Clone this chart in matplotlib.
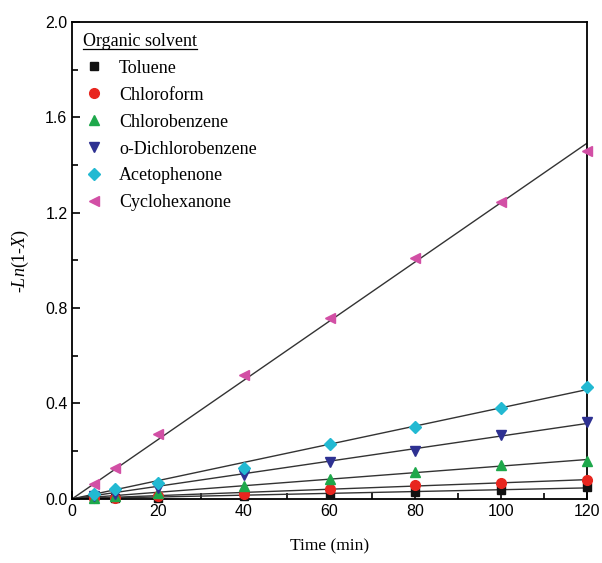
import numpy as np
import matplotlib.pyplot as plt
from matplotlib.lines import Line2D

plt.rcParams['mathtext.fontset'] = 'custom'
plt.rcParams['mathtext.it'] = 'Liberation Serif:italic'
plt.rcParams['mathtext.rm'] = 'Liberation Serif'

# Tiempo de reaccion (min)
tiempo = np.array([5, 10, 20, 40, 60, 80, 100, 120])

# -ln(1-X) para cada disolvente
tolueno = [0.002, 0.003, 0.005, 0.01, 0.02, 0.03, 0.038, 0.05]
cloroformo = [0.003, 0.005, 0.01, 0.022, 0.04, 0.058, 0.067, 0.08]
clorobenceno = [0.005, 0.01, 0.025, 0.055, 0.085, 0.113, 0.14, 0.16]
diclorobenceno = [0.01, 0.02, 0.045, 0.1, 0.156, 0.2, 0.268, 0.324]
acetofenona = [0.02, 0.04, 0.065, 0.13, 0.23, 0.303, 0.38, 0.47]
ciclohexanona = [0.063, 0.13, 0.27, 0.52, 0.76, 1.01, 1.245, 1.46]

nombres = ['Toluene', 'Chloroform', 'Chlorobenzene', 'o-Dichlorobenzene',
           'Acetophenone', 'Cyclohexanone']
series = [tolueno, cloroformo, clorobenceno, diclorobenceno, acetofenona, ciclohexanona]
colores = ['#111111', '#e8261f', '#1ea84b', '#2e3192', '#22b9d2', '#d24fa5']
marcadores = ['s', 'o', '^', 'v', 'D', '<']
tamanos = [6, 7, 7, 7, 6, 7]

fig = plt.figure(figsize=(6.02, 5.63), dpi=100)
ax = fig.add_axes([0.12, 0.114, 0.855, 0.847])

t_fit = np.array([0, 120])
for y, nombre, c, m, s in zip(series, nombres, colores, marcadores, tamanos):
    y = np.array(y)
    # ajuste lineal por el origen
    k = np.sum(tiempo * y) / np.sum(tiempo ** 2)
    ax.plot(t_fit, k * t_fit, color='#333333', lw=1.0, zorder=2)
    ax.plot(tiempo, y, linestyle='none', marker=m, color=c, markersize=s,
            label=nombre, zorder=3, clip_on=False)

ax.set_xlim(0, 120)
ax.set_ylim(0, 2.0)
ax.set_xticks([0, 20, 40, 60, 80, 100, 120])
ax.set_xticks(np.arange(10, 120, 20), minor=True)
ax.set_yticks([0.0, 0.4, 0.8, 1.2, 1.6, 2.0])
ax.set_yticks([0.2, 0.6, 1.0, 1.4, 1.8], minor=True)
ax.set_yticklabels(['0.0', '0.4', '0.8', '1.2', '1.6', '2.0'])
ax.tick_params(which='both', direction='in', top=False, right=False,
               labelsize=11.5, width=1.2)
ax.tick_params(which='major', length=6)
ax.tick_params(which='minor', length=4)
for lab in ax.get_xticklabels() + ax.get_yticklabels():
    lab.set_family('Liberation Sans')
for sp in ax.spines.values():
    sp.set_linewidth(1.3)

ax.set_xlabel('Time (min)', family='Liberation Serif', fontsize=12.5, labelpad=14)
ax.set_ylabel(r'-$\mathit{Ln}$(1-$\mathit{X}$)', family='Liberation Serif',
              fontsize=13, labelpad=10)

leg = ax.legend(loc='upper left', bbox_to_anchor=(0.0, 1.0), frameon=False,
                title='Organic solvent', alignment='left',
                prop={'family': 'Liberation Serif', 'size': 13},
                title_fontproperties={'family': 'Liberation Serif', 'size': 13},
                handletextpad=0.8, labelspacing=0.55, borderpad=0.2,
                borderaxespad=0.4, handlelength=1.2)

# subrayado del titulo de la leyenda
fig.canvas.draw()
r = fig.canvas.get_renderer()
bb = leg.get_title().get_window_extent(r)
bb = bb.transformed(fig.transFigure.inverted())
fig.add_artist(Line2D([bb.x0, bb.x1], [bb.y0 + 0.002, bb.y0 + 0.002],
                      transform=fig.transFigure, color='black', lw=0.9))

fig.savefig('out.png', dpi=100)
